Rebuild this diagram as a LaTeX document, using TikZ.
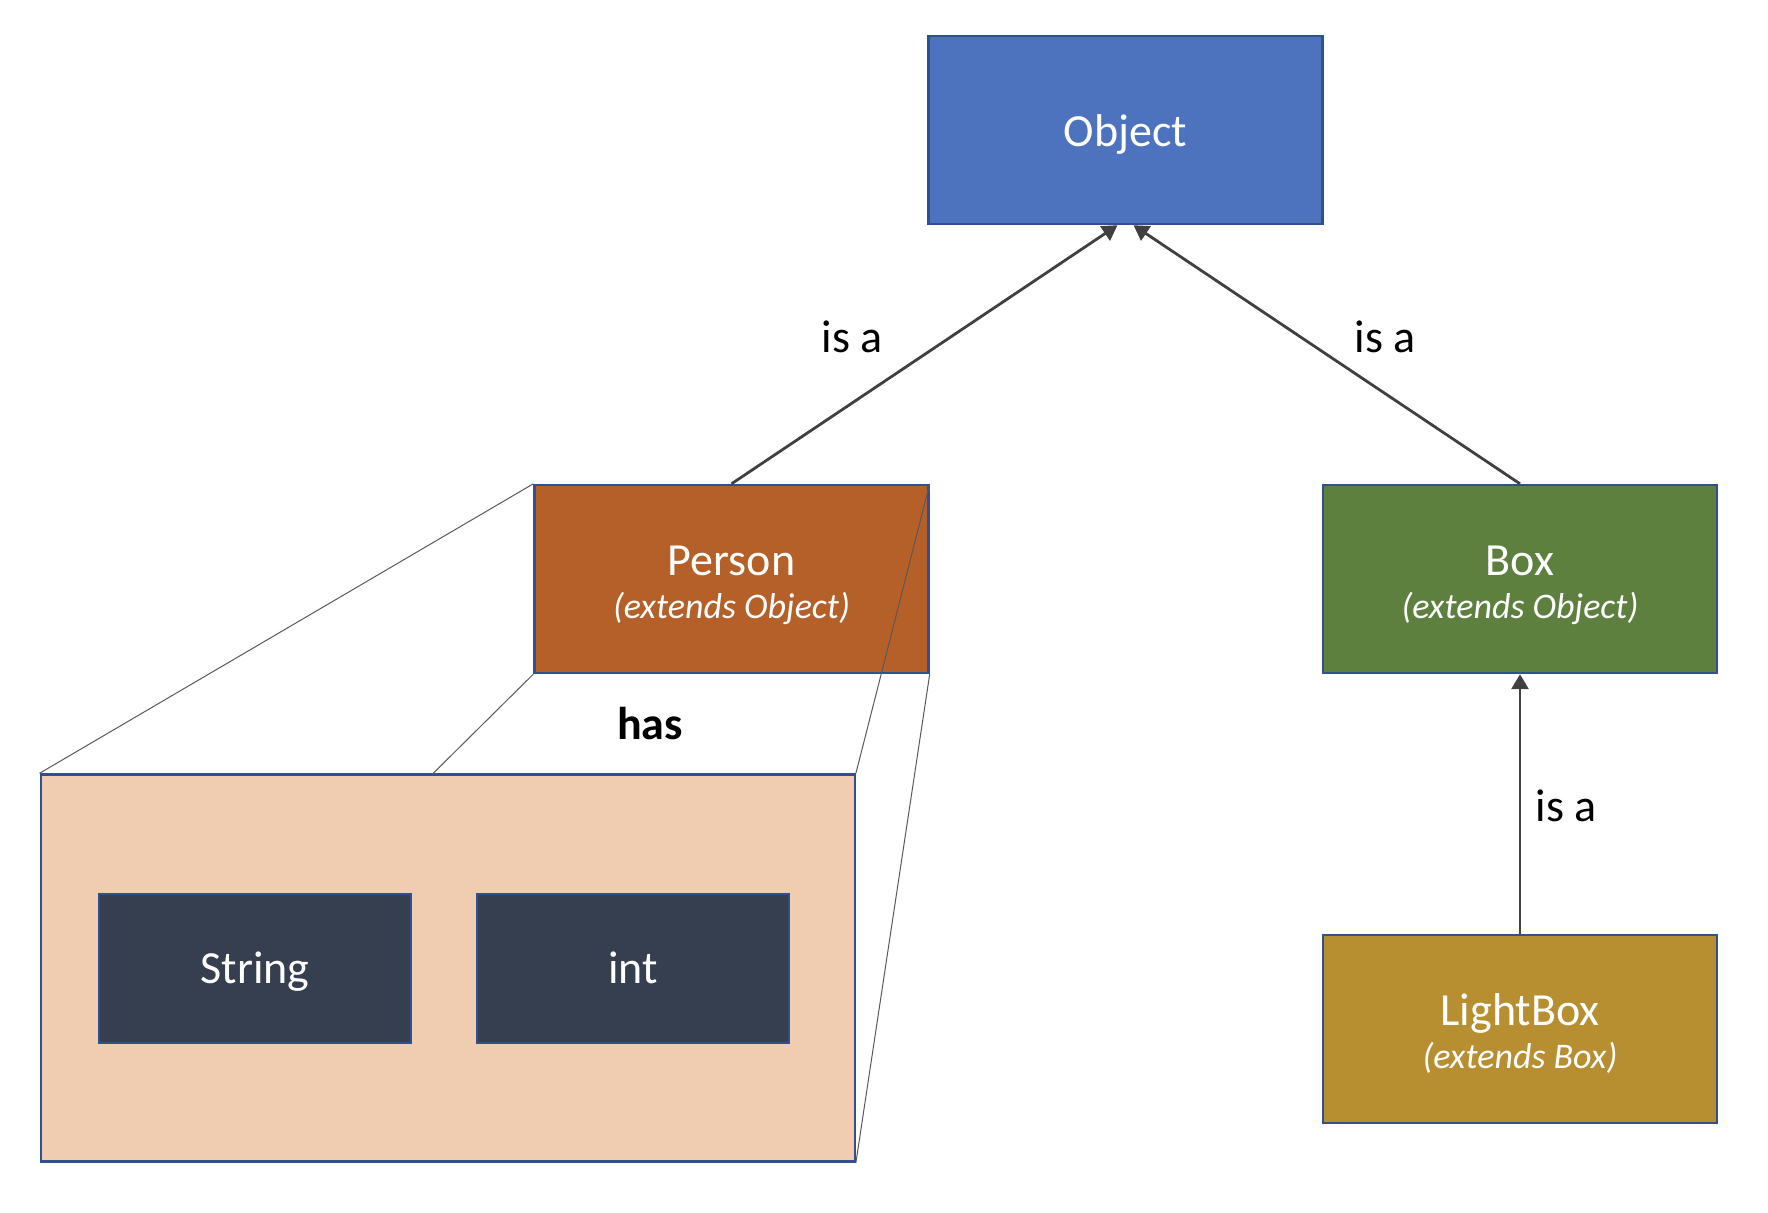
\documentclass[tikz,border=0pt]{standalone}
\usepackage{fontspec}
\setmainfont{Carlito}
\usetikzlibrary{arrows.meta}
\definecolor{objblue}{HTML}{4E73BE}
\definecolor{edgeblue}{HTML}{2F528F}
\definecolor{personorange}{HTML}{B55F29}
\definecolor{boxgreen}{HTML}{5E803F}
\definecolor{lightgold}{HTML}{B78F31}
\definecolor{peach}{HTML}{F0CCB0}
\definecolor{slate}{HTML}{363F50}
\definecolor{arrowgray}{HTML}{404040}
\tikzset{
  classbox/.style={draw=edgeblue, line width=1.2pt, inner sep=0pt, text=white, align=center,
    font=\fontsize{23}{25}\selectfont, minimum width=197pt, minimum height=94pt},
  onelinebox/.style={text height=14.5pt, text depth=0pt},
  typebox/.style={draw=edgeblue, line width=1.2pt, inner sep=0pt, text=white, fill=slate,
    font=\fontsize{23}{25}\selectfont, minimum width=156pt, minimum height=74.5pt, onelinebox},
  isa/.style={draw=arrowgray, line width=1.4pt, -{Triangle[length=7.5pt,width=8.5pt]}},
  zoomline/.style={draw=black!65, line width=0.5pt},
  lbl/.style={font=\fontsize{23}{25}\selectfont, inner sep=0pt}
}
\newcommand{\twoline}[2]{\raisebox{-3.9pt}[\height][\depth]{\begin{tabular}{@{}c@{}}#1\\[-3.75pt]{\fontsize{18}{20}\selectfont\itshape #2}\end{tabular}}}
\begin{document}
\begin{tikzpicture}[x=0.5pt,y=-0.5pt]
\useasboundingbox (0,0) rectangle (1768,1212);
% container
\node[draw=edgeblue, line width=1.2pt, fill=peach, minimum width=407pt, minimum height=193.5pt, inner sep=0pt] (cont) at (447.7,968) {};
\node[typebox] (str) at (255,968.5) {String};
\node[typebox] (int) at (633,968.5) {int};
% classes
\node[classbox, fill=objblue, onelinebox, text height=16.5pt] (obj) at (1125.5,130) {Object};
\node[classbox, fill=personorange] (person) at (731.5,579) {\twoline{Person}{(extends Object)}};
\node[classbox, fill=boxgreen] (box) at (1520,579) {\twoline{Box}{(extends Object)}};
\node[classbox, fill=lightgold] (light) at (1520,1029) {\twoline{LightBox}{(extends Box)}};
% zoom lines
\coordinate (contmid) at (432,774.5);
\draw[zoomline] (person.north west) -- (cont.north west);
\draw[zoomline] (person.south west) -- (contmid);
\draw[zoomline] (person.north east) -- (cont.north east);
\draw[zoomline] (person.south east) -- (cont.south east);
% arrows
\draw[isa] (person.north) -- ([xshift=-4pt]obj.south);
\draw[isa] (box.north) -- ([xshift=4pt]obj.south);
\draw[isa] (light.north) -- (box.south);
% labels
\node[lbl] (l1) at (852,337) {is a};
\node[lbl] (l2) at (1385,337) {is a};
\node[lbl] (l3) at (1566,806) {is a};
\node[lbl, font=\fontsize{23}{25}\selectfont\bfseries] (has) at (650,724) {has};
\end{tikzpicture}
\end{document}
